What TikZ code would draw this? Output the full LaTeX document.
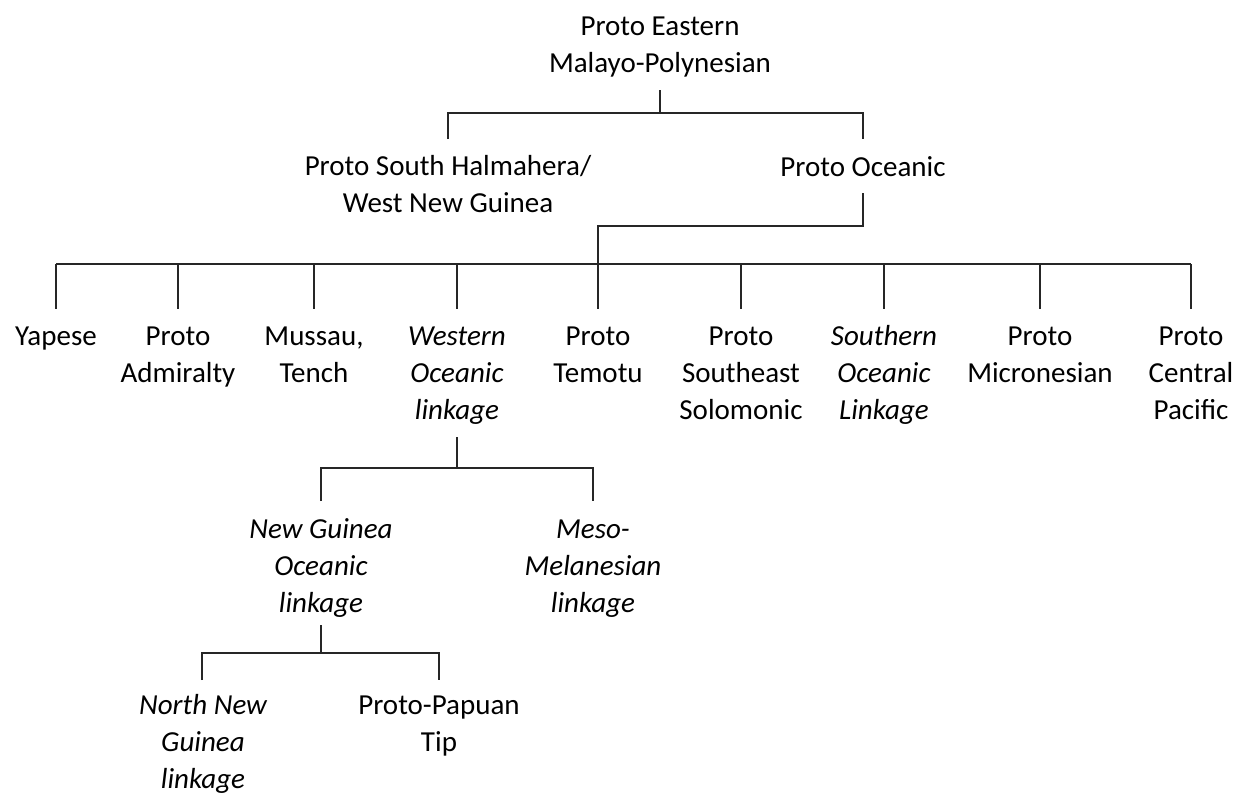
\documentclass[tikz,border=0pt]{standalone}
\usepackage{fontspec}
\setmainfont{Carlito}
\begin{document}
\begin{tikzpicture}[x=1pt,y=-1pt,
  lbl/.style={anchor=base, align=center, inner sep=0pt, text=black, font=\fontsize{29}{37}\selectfont},
  itl/.style={lbl, font=\fontsize{29}{37}\selectfont\itshape},
  conn/.style={line width=1.5pt, draw=black!85}]
\useasboundingbox (0,0) rectangle (1237,793);

% nodes (anchored at the baseline of their last line)
\node[lbl] (pemp) at (660,72) {Proto Eastern\\Malayo-Polynesian};
\node[lbl] (pshwng) at (448,212) {Proto South Halmahera/\\West New Guinea};
\node[lbl] (poc) at (863,176) {Proto Oceanic};

\node[lbl] (yap) at (56,345) {Yapese};
\node[lbl] (adm) at (178,382) {Proto\\Admiralty};
\node[lbl] (mus) at (314,382) {Mussau,\\Tench};
\node[itl] (woc) at (457,419) {Western\\Oceanic\\linkage};
\node[lbl] (tem) at (598,382) {Proto\\Temotu};
\node[lbl] (ses) at (741,419) {Proto\\Southeast\\Solomonic};
\node[itl] (soc) at (884,419) {Southern\\Oceanic\\Linkage};
\node[lbl] (mic) at (1040,382) {Proto\\Micronesian};
\node[lbl] (pcp) at (1191,419) {Proto\\Central\\Pacific};

\node[itl] (ngo) at (321,612) {New Guinea\\Oceanic\\linkage};
\node[itl] (mml) at (593,612) {Meso-\\Melanesian\\linkage};

\node[itl] (nng) at (203,788) {North New\\Guinea\\linkage};
\node[lbl] (ppt) at (439,751) {Proto-Papuan\\Tip};

% junction coordinates
\coordinate (pemp-b) at (660,90);
\coordinate (pemp-j) at (660,113);
\coordinate (pshwng-t) at (448,139);
\coordinate (poc-t) at (863,139);

\coordinate (poc-b) at (863,193);
\coordinate (poc-j) at (863,226);
\coordinate (poc-k) at (598,226);
\coordinate (poc-m) at (598,264);
\coordinate (row-l) at (56,264);
\coordinate (row-r) at (1191,264);

\coordinate (woc-b) at (457,437);
\coordinate (woc-j) at (457,468);
\coordinate (ngo-t) at (321,501);
\coordinate (mml-t) at (593,501);

\coordinate (ngo-b) at (321,625);
\coordinate (ngo-j) at (321,653);
\coordinate (nng-t) at (202,680);
\coordinate (ppt-t) at (439,680);

% connectors
\draw[conn] (pemp-b) -- (pemp-j);
\draw[conn] (pshwng-t) |- (pemp-j) -| (poc-t);

\draw[conn] (poc-b) -- (poc-j) -- (poc-k) -- (poc-m);
\draw[conn] (row-l) -- (row-r);
\foreach \n in {yap,adm,mus,woc,tem,ses,soc,mic,pcp}{
  \draw[conn] (\n |- row-l) -- ++(0,45);
}

\draw[conn] (woc-b) -- (woc-j);
\draw[conn] (ngo-t) |- (woc-j) -| (mml-t);

\draw[conn] (ngo-b) -- (ngo-j);
\draw[conn] (nng-t) |- (ngo-j) -| (ppt-t);
\end{tikzpicture}
\end{document}
